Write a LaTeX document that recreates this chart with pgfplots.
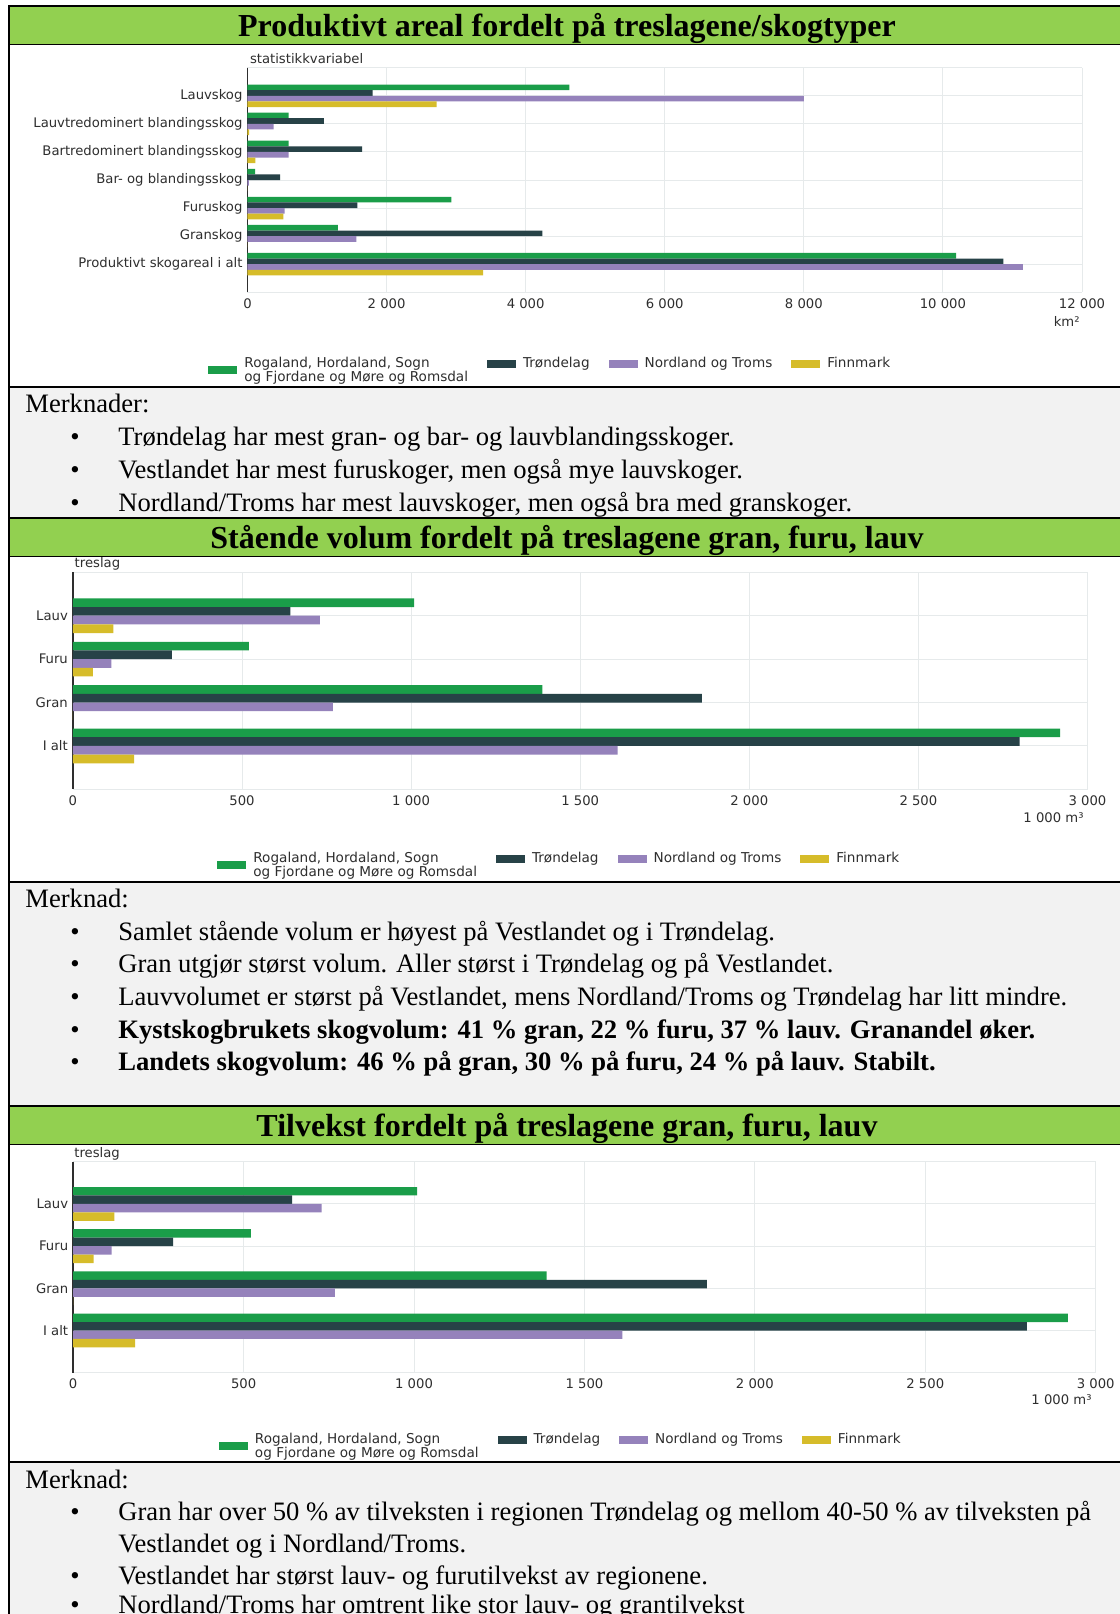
\documentclass[border=0pt]{standalone}
\usepackage{pgfplots}
\pgfplotsset{compat=1.18}
\usepackage{fontspec}
\setmainfont{Liberation Serif}
\newfontfamily\chartfont{DejaVu Sans}
\definecolor{cGreen}{HTML}{1A9D49}
\definecolor{cDark}{HTML}{274247}
\definecolor{cPurple}{HTML}{9582BB}
\definecolor{cYellow}{HTML}{D6BC2A}
\definecolor{titleGreen}{HTML}{92D050}
\definecolor{noteGray}{HTML}{F2F2F2}
\definecolor{gridC}{HTML}{E6EAEB}
\definecolor{txtC}{HTML}{2E2E2E}
\newcommand\cf{\chartfont\fontsize{6.6}{5.5}\selectfont}
\newcommand\lf{\chartfont\fontsize{6.8}{5.5}\selectfont}
\newcommand\nf{\fontsize{13.3}{16}\selectfont}
\newcommand\tf{\bfseries\fontsize{16}{19}\selectfont}
\pgfplotsset{
  myhbar/.style={
    scale only axis,
    anchor=north west,
    xbar,
    bar width=0.2,
    y dir=reverse,
    ymin=0,
    xmin=0,
    enlargelimits=false,
    scaled x ticks=false,
    axis x line*=box,
    axis y line*=left,
    x axis line style={draw=gridC, line width=0.5pt, -},
    y axis line style={draw=txtC, line width=0.8pt, -},
    xmajorgrids, ymajorgrids,
    grid style={draw=gridC, line width=0.5pt},
    major tick length=0pt,
    tick style={draw=none},
    ticklabel style={font=\cf, text=txtC},
    xticklabel style={yshift=0.3pt},
    yticklabel style={xshift=1pt},
    legend columns=4,
    legend cell align=left,
    legend style={draw=none, fill=none, inner sep=0pt, font=\lf, text=txtC,
      nodes={inner sep=0pt},
      /tikz/every even column/.append style={column sep=9.5pt}},
    legend image code/.code={\fill[##1] (0pt,-2pt) rectangle (14.5pt,2pt); \path (18pt,0pt);},
  },
  greenleg/.style={
    legend image code/.code={\fill[##1] (0pt,-5pt) rectangle (14.5pt,-1pt); \path (18pt,0pt);},
  },
}
\begin{document}
\begin{tikzpicture}
\useasboundingbox (0pt,0pt) rectangle (560pt,-807pt);
\begin{scope}[x=0.5pt,y=-0.5pt]
  \fill[white] (0,0) rectangle (1120,1614);
  \fill[titleGreen] (10,7) rectangle (1120,44);
  \fill[titleGreen] (10,519) rectangle (1120,556);
  \fill[titleGreen] (10,1107) rectangle (1120,1144);
  \fill[noteGray] (10,388) rectangle (1120,518);
  \fill[noteGray] (10,883) rectangle (1120,1106);
  \fill[noteGray] (10,1463) rectangle (1120,1614);
\end{scope}

% Chart 1
\begin{axis}[myhbar,
  width=417.25pt, height=112.3pt, at={(123.75pt,-33.85pt)},
  xmax=12000, ymax=8,
  xtick={0,2000,4000,6000,8000,10000,12000},
  xticklabels={0,2 000,4 000,6 000,8 000,10 000,12 000},
  ytick={1,2,3,4,5,6,7},
  yticklabels={Lauvskog,Lauvtredominert blandingsskog,Bartredominert blandingsskog,Bar- og blandingsskog,Furuskog,Granskog,Produktivt skogareal i alt},
  legend style={at={(-0.0473,-0.288)}, anchor=north west},
]
\addplot[fill=cGreen, draw=none, bar shift=-0.3, greenleg]
  coordinates {(4630,1) (590,2) (590,3) (110,4) (2930,5) (1300,6) (10190,7)};
\addlegendentry{\begin{tabular}[t]{@{}l@{}}Rogaland, Hordaland, Sogn\\og Fjordane og Møre og Romsdal\end{tabular}}
\addplot[fill=cDark, draw=none, bar shift=-0.1]
  coordinates {(1800,1) (1100,2) (1650,3) (470,4) (1580,5) (4240,6) (10870,7)};
\addlegendentry{Trøndelag}
\addplot[fill=cPurple, draw=none, bar shift=0.1]
  coordinates {(8000,1) (375,2) (590,3) (20,4) (535,5) (1565,6) (11150,7)};
\addlegendentry{Nordland og Troms}
\addplot[fill=cYellow, draw=none, bar shift=0.3]
  coordinates {(2720,1) (25,2) (115,3) (0,4) (515,5) (0,6) (3390,7)};
\addlegendentry{Finnmark}
\end{axis}

% Chart 2
\begin{axis}[myhbar,
  width=507.3pt, height=108.5pt, at={(36.45pt,-286.15pt)},
  xmax=3000, ymax=5,
  xtick={0,500,1000,1500,2000,2500,3000},
  xticklabels={0,500,1 000,1 500,2 000,2 500,3 000},
  ytick={1,2,3,4},
  yticklabels={Lauv,Furu,Gran,I alt},
  legend style={at={(0.1420,-0.289)}, anchor=north west},
]
\addplot[fill=cGreen, draw=none, bar shift=-0.3, greenleg]
  coordinates {(1009,1) (520,2) (1388,3) (2919,4)};
\addlegendentry{\begin{tabular}[t]{@{}l@{}}Rogaland, Hordaland, Sogn\\og Fjordane og Møre og Romsdal\end{tabular}}
\addplot[fill=cDark, draw=none, bar shift=-0.1]
  coordinates {(643,1) (293,2) (1860,3) (2799,4)};
\addlegendentry{Trøndelag}
\addplot[fill=cPurple, draw=none, bar shift=0.1]
  coordinates {(730,1) (114,2) (769,3) (1611,4)};
\addlegendentry{Nordland og Troms}
\addplot[fill=cYellow, draw=none, bar shift=0.3]
  coordinates {(120,1) (59,2) (0,3) (181,4)};
\addlegendentry{Finnmark}
\end{axis}

% Chart 3
\begin{axis}[myhbar,
  width=511.25pt, height=105.5pt, at={(36.6pt,-580.85pt)},
  xmax=3000, ymax=5,
  xtick={0,500,1000,1500,2000,2500,3000},
  xticklabels={0,500,1 000,1 500,2 000,2 500,3 000},
  ytick={1,2,3,4},
  yticklabels={Lauv,Furu,Gran,I alt},
  legend style={at={(0.1422,-0.286)}, anchor=north west},
]
\addplot[fill=cGreen, draw=none, bar shift=-0.3, greenleg]
  coordinates {(1009,1) (521,2) (1389,3) (2918,4)};
\addlegendentry{\begin{tabular}[t]{@{}l@{}}Rogaland, Hordaland, Sogn\\og Fjordane og Møre og Romsdal\end{tabular}}
\addplot[fill=cDark, draw=none, bar shift=-0.1]
  coordinates {(642,1) (293,2) (1859,3) (2798,4)};
\addlegendentry{Trøndelag}
\addplot[fill=cPurple, draw=none, bar shift=0.1]
  coordinates {(729,1) (113,2) (768,3) (1611,4)};
\addlegendentry{Nordland og Troms}
\addplot[fill=cYellow, draw=none, bar shift=0.3]
  coordinates {(121,1) (60,2) (0,3) (182,4)};
\addlegendentry{Finnmark}
\end{axis}

\begin{scope}[x=0.5pt,y=-0.5pt]
  % frame lines
  \draw[black, line width=1.2pt] (9,6) -- (9,1614);
  \draw[black, line width=1pt] (8,6) -- (1120,6);
  \draw[black, line width=0.5pt] (10,44.5) -- (1120,44.5);
  \draw[black, line width=0.5pt] (10,556.5) -- (1120,556.5);
  \draw[black, line width=0.5pt] (10,1144.5) -- (1120,1144.5);
  \draw[black, line width=1pt] (9,387) -- (1120,387);
  \draw[black, line width=1pt] (9,518) -- (1120,518);
  \draw[black, line width=1pt] (9,882) -- (1120,882);
  \draw[black, line width=1pt] (9,1106) -- (1120,1106);
  \draw[black, line width=1pt] (9,1462) -- (1120,1462);
  % titles
  \node[anchor=base, inner sep=0pt, font=\tf] at (567,36) {Produktivt areal fordelt på treslagene/skogtyper};
  \node[anchor=base, inner sep=0pt, font=\tf] at (567,548) {Stående volum fordelt på treslagene gran, furu, lauv};
  \node[anchor=base, inner sep=0pt, font=\tf] at (567,1136) {Tilvekst fordelt på treslagene gran, furu, lauv};
  % chart annotations
  \node[anchor=west, inner sep=0pt, font=\cf, text=txtC] at (249.6,58.7) {statistikkvariabel};
  \node[anchor=east, inner sep=0pt, font=\cf, text=txtC] at (1080,321) {km²};
  \node[anchor=west, inner sep=0pt, font=\cf, text=txtC] at (74.3,564.3) {treslag};
  \node[anchor=east, inner sep=0pt, font=\cf, text=txtC] at (1084,817.7) {1 000 m³};
  \node[anchor=west, inner sep=0pt, font=\cf, text=txtC] at (74,1154) {treslag};
  \node[anchor=east, inner sep=0pt, font=\cf, text=txtC] at (1092,1399.3) {1 000 m³};
  % notes 1
  \node[anchor=base west, inner sep=0pt, font=\nf] at (25,412.3) {Merknader:};
  \foreach \yy/\txt in {445.3/{Trøndelag har mest gran- og bar- og lauvblandingsskoger.},
                       478.2/{Vestlandet har mest furuskoger, men også mye lauvskoger.},
                       511.1/{Nordland/Troms har mest lauvskoger, men også bra med granskoger.}}{
    \node[anchor=base, inner sep=0pt, font=\nf] at (75,\yy) {\textbullet};
    \node[anchor=base west, inner sep=0pt, font=\nf] at (118,\yy) {\txt};
  }
  % notes 2
  \node[anchor=base west, inner sep=0pt, font=\nf] at (25,907.5) {Merknad:};
  \foreach \yy/\txt in {940.4/{Samlet stående volum er høyest på Vestlandet og i Trøndelag.},
                       972.3/{Gran utgjør størst volum. Aller størst i Trøndelag og på Vestlandet.},
                       1005.3/{Lauvvolumet er størst på Vestlandet, mens Nordland/Troms og Trøndelag har litt mindre.},
                       1038.2/{\bfseries Kystskogbrukets skogvolum: 41 \% gran, 22 \% furu, 37 \% lauv. Granandel øker.},
                       1070.1/{\bfseries Landets skogvolum: 46 \% på gran, 30 \% på furu, 24 \% på lauv. Stabilt.}}{
    \node[anchor=base, inner sep=0pt, font=\nf] at (75,\yy) {\textbullet};
    \node[anchor=base west, inner sep=0pt, font=\nf] at (118,\yy) {\txt};
  }
  % notes 3
  \node[anchor=base west, inner sep=0pt, font=\nf] at (25,1488) {Merknad:};
  \node[anchor=base, inner sep=0pt, font=\nf] at (75,1520.8) {\textbullet};
  \node[anchor=base west, inner sep=0pt, font=\nf] at (118,1520.8) {Gran har over 50 \% av tilveksten i regionen Trøndelag og mellom 40-50 \% av tilveksten på};
  \node[anchor=base west, inner sep=0pt, font=\nf] at (118,1552.8) {Vestlandet og i Nordland/Troms.};
  \node[anchor=base, inner sep=0pt, font=\nf] at (75,1584.8) {\textbullet};
  \node[anchor=base west, inner sep=0pt, font=\nf] at (118,1584.8) {Vestlandet har størst lauv- og furutilvekst av regionene.};
  \node[anchor=base, inner sep=0pt, font=\nf] at (75,1613) {\textbullet};
  \node[anchor=base west, inner sep=0pt, font=\nf] at (118,1613) {Nordland/Troms har omtrent like stor lauv- og grantilvekst};
\end{scope}
\end{tikzpicture}
\end{document}
